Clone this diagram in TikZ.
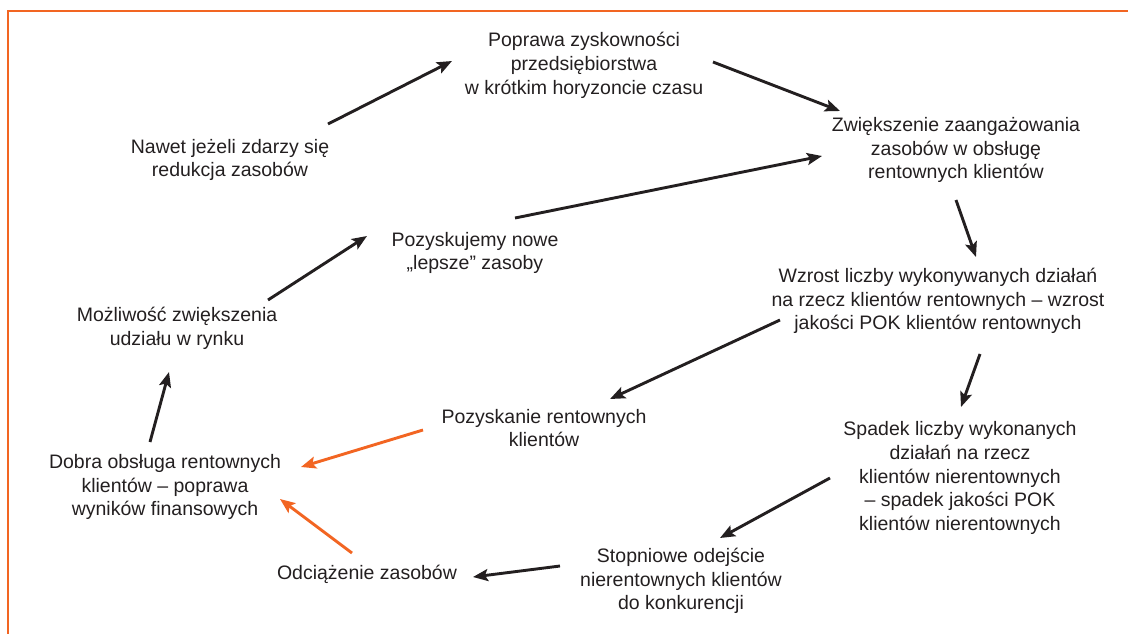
\documentclass[tikz,border=0pt]{standalone}
\usepackage{fontspec}
\setmainfont{Liberation Sans}
\usetikzlibrary{arrows.meta}
\definecolor{txt}{HTML}{231F20}
\definecolor{org}{HTML}{F26522}
\tikzset{
  lbl/.style={align=center, text=txt, inner sep=0pt, font=\fontsize{19.5}{23.7}\selectfont},
  arr/.style={line width=2.9pt, draw=txt, -{Stealth[length=15pt,width=12pt,inset=3pt]}},
  oarr/.style={arr, draw=org},
}
\begin{document}
\begin{tikzpicture}[x=1pt,y=-1pt]
\useasboundingbox (0,0) rectangle (1128,634);
\draw[org, line width=2.4pt] (1128,11) -- (8,11) -- (8,634);
\node[lbl] (n1) at (584,65.5) {Poprawa zyskowności\\przedsiębiorstwa\\w krótkim horyzoncie czasu};
\node[lbl] (n2) at (956,150) {Zwiększenie zaangażowania\\zasobów w obsługę\\rentownych klientów};
\node[lbl] (n3) at (938,301) {Wzrost liczby wykonywanych działań\\na rzecz klientów rentownych – wzrost\\jakości POK klientów rentownych};
\node[lbl] (n4) at (960,478) {Spadek liczby wykonanych\\działań na rzecz\\klientów nierentownych\\– spadek jakości POK\\klientów nierentownych};
\node[lbl] (n5) at (681,581) {Stopniowe odejście\\nierentownych klientów\\do konkurencji};
\node[lbl] (n6) at (367,574) {Odciążenie zasobów};
\node[lbl] (n7) at (165,487) {Dobra obsługa rentownych\\klientów – poprawa\\wyników finansowych};
\node[lbl] (n8) at (177,328) {Możliwość zwiększenia\\udziału w rynku};
\node[lbl] (n9) at (475,253) {Pozyskujemy nowe\\„lepsze” zasoby};
\node[lbl] (n10) at (230,160) {Nawet jeżeli zdarzy się\\redukcja zasobów};
\node[lbl] (n11) at (544,428) {Pozyskanie rentownych\\klientów};
% arrow end points
\coordinate (a1s) at (328,124); \coordinate (a1e) at (452,61);
\coordinate (a2s) at (713,62);  \coordinate (a2e) at (840,111);
\coordinate (a3s) at (515,218); \coordinate (a3e) at (822,156);
\coordinate (a4s) at (956,200); \coordinate (a4e) at (976,257);
\coordinate (a5s) at (780,320); \coordinate (a5e) at (610,399);
\coordinate (a6s) at (980,354); \coordinate (a6e) at (961,407);
\coordinate (a7s) at (830,478); \coordinate (a7e) at (720,538);
\coordinate (a8s) at (560,566); \coordinate (a8e) at (473,577);
\coordinate (a9s) at (423,430); \coordinate (a9e) at (301,467);
\coordinate (a10s) at (352,553); \coordinate (a10e) at (280,499);
\coordinate (a11s) at (150,442); \coordinate (a11e) at (169,372);
\coordinate (a12s) at (268,300); \coordinate (a12e) at (367,236);
\draw[arr] (a1s) -- (a1e);
\draw[arr] (a2s) -- (a2e);
\draw[arr] (a3s) -- (a3e);
\draw[arr] (a4s) -- (a4e);
\draw[arr] (a5s) -- (a5e);
\draw[arr] (a6s) -- (a6e);
\draw[arr] (a7s) -- (a7e);
\draw[arr] (a8s) -- (a8e);
\draw[oarr] (a9s) -- (a9e);
\draw[oarr] (a10s) -- (a10e);
\draw[arr] (a11s) -- (a11e);
\draw[arr] (a12s) -- (a12e);
\end{tikzpicture}
\end{document}
